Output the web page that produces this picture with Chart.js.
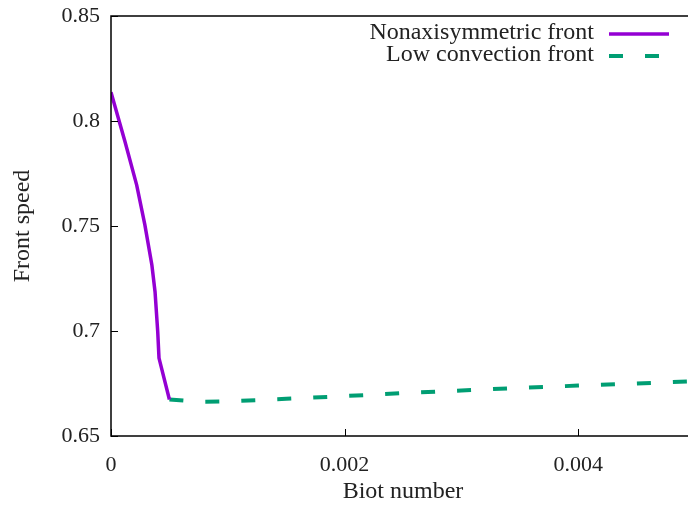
<!DOCTYPE html>
<html>
<head>
<meta charset="utf-8">
<script src="https://cdn.jsdelivr.net/npm/chart.js@4"></script>
<style>
  html, body { margin: 0; padding: 0; background: #fff; overflow: hidden; }
  #wrap { width: 688px; height: 505px; overflow: hidden; position: relative; }
  #box { width: 700px; height: 505px; position: absolute; left: 0; top: 0; }
</style>
</head>
<body>
<div id="wrap"><div id="box"><canvas id="c" width="700" height="505"></canvas></div></div>
<script>
// Front speed versus Biot number
const nonaxiBiot  = [0, 0.00012, 0.00022, 0.00029, 0.00035, 0.000377, 0.0004, 0.000411, 0.0005];
const nonaxiSpeed = [0.8137, 0.7901, 0.7695, 0.7505, 0.7314, 0.7187, 0.6997, 0.6871, 0.6674];

const lowConvBiot  = [0.0005, 0.00075, 0.001, 0.0015, 0.002, 0.0025, 0.003, 0.0035, 0.004, 0.0045, 0.005];
const lowConvSpeed = [0.6674, 0.6663, 0.6665, 0.6677, 0.6690, 0.6704, 0.6717, 0.6729, 0.6740, 0.6750, 0.6761];

const xTicks = [0, 0.002, 0.004];
const yTicks = [0.65, 0.7, 0.75, 0.8, 0.85];
const xTickLabels = ['0', '0.002', '0.004'];
const yTickLabels = ['0.65', '0.7', '0.75', '0.8', '0.85'];

const seriesNames = ['Nonaxisymmetric front', 'Low convection front'];
const PURPLE = '#9400d3';
const GREEN = '#009e73';
const FONT = '"Liberation Serif", "Times New Roman", serif';

const toPoints = (xs, ys) => xs.map((x, i) => ({ x: x, y: ys[i] }));

// Frame, inward tick marks and a legend with the sample line to the right of the text
const framePlugin = {
  id: 'frame',
  afterDraw(chart) {
    const { ctx, chartArea: a, scales } = chart;
    ctx.save();
    ctx.strokeStyle = '#000';
    ctx.lineWidth = 1.5;
    ctx.strokeRect(a.left, a.top, a.right - a.left, a.bottom - a.top);
    ctx.lineWidth = 1;
    const tl = 7;
    scales.x.ticks.forEach(t => {
      const px = Math.round(scales.x.getPixelForValue(t.value)) + 0.5;
      ctx.beginPath(); ctx.moveTo(px, a.bottom); ctx.lineTo(px, a.bottom - tl); ctx.stroke();
    });
    scales.y.ticks.forEach(t => {
      const py = Math.round(scales.y.getPixelForValue(t.value)) + 0.5;
      ctx.beginPath(); ctx.moveTo(a.left, py); ctx.lineTo(a.left + tl, py); ctx.stroke();
    });

    // legend
    ctx.font = '24px ' + FONT;
    ctx.fillStyle = '#222';
    ctx.textAlign = 'right';
    ctx.textBaseline = 'middle';
    const textRight = 594, lineL = 609, lineR = 669;
    chart.data.datasets.forEach((ds, i) => {
      const y = 33 + i * 22;
      ctx.fillText(ds.label, textRight, y);
      ctx.strokeStyle = ds.borderColor;
      ctx.lineWidth = ds.borderWidth;
      ctx.lineCap = 'butt';
      ctx.setLineDash(ds.borderDash || []);
      ctx.beginPath(); ctx.moveTo(lineL, y + 1); ctx.lineTo(lineR, y + 1); ctx.stroke();
      ctx.setLineDash([]);
    });
    ctx.restore();
  }
};

const noOverhang = s => {
  s.paddingTop = 0; s.paddingBottom = 0; s.paddingLeft = 0; s.paddingRight = 0;
};

new Chart(document.getElementById('c'), {
  type: 'line',
  data: {
    datasets: [
      {
        label: seriesNames[0],
        data: toPoints(nonaxiBiot, nonaxiSpeed),
        borderColor: PURPLE,
        borderWidth: 3.5,
        pointRadius: 0,
        tension: 0,
        fill: false
      },
      {
        label: seriesNames[1],
        data: toPoints(lowConvBiot, lowConvSpeed),
        borderColor: GREEN,
        borderWidth: 4,
        borderDash: [14, 22],
        borderCapStyle: 'butt',
        pointRadius: 0,
        tension: 0,
        fill: false
      }
    ]
  },
  options: {
    responsive: false,
    animation: false,
    devicePixelRatio: 1,
    layout: { padding: { top: 16, right: 5, left: 0, bottom: 0 } },
    plugins: { legend: { display: false }, tooltip: { enabled: false } },
    scales: {
      x: {
        type: 'linear',
        min: 0,
        max: 0.005,
        afterBuildTicks: s => { s.ticks = xTicks.map(v => ({ value: v })); },
        afterFit: s => { s.height = 69; noOverhang(s); },
        grid: { display: false, drawTicks: false },
        border: { display: false },
        ticks: {
          padding: 16,
          color: '#222',
          font: { family: FONT, size: 22 },
          maxRotation: 0,
          callback: (v) => xTickLabels[xTicks.indexOf(v)]
        },
        title: {
          display: true,
          text: 'Biot number',
          color: '#222',
          font: { family: FONT, size: 24, lineHeight: 1 },
          padding: { top: 0, bottom: 1 }
        }
      },
      y: {
        type: 'linear',
        min: 0.65,
        max: 0.85,
        afterBuildTicks: s => { s.ticks = yTicks.map(v => ({ value: v })); },
        afterFit: s => { s.width = 111; noOverhang(s); },
        grid: { display: false, drawTicks: false },
        border: { display: false },
        ticks: {
          padding: 11,
          color: '#222',
          font: { family: FONT, size: 22 },
          callback: (v) => yTickLabels[yTicks.indexOf(v)]
        },
        title: {
          display: true,
          text: 'Front speed',
          color: '#222',
          font: { family: FONT, size: 24, lineHeight: 1 },
          padding: { top: 11, bottom: 0 }
        }
      }
    }
  },
  plugins: [framePlugin]
});
</script>
</body>
</html>
